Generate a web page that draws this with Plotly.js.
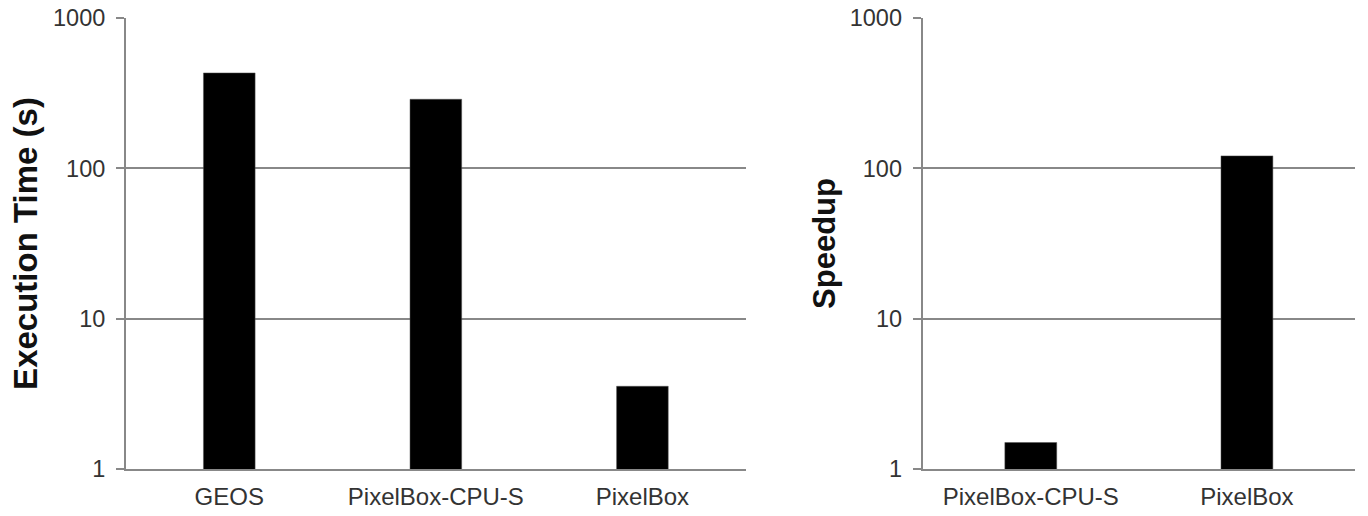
<!DOCTYPE html>
<html>
<head>
<meta charset="utf-8">
<script src="https://cdn.plot.ly/plotly-3.0.1.min.js"></script>
<style>html,body{margin:0;padding:0;background:#fff;}#chart{width:1368px;height:516px;}</style>
</head>
<body>
<div id="chart"></div>
<script>
// Left panel: execution time (seconds)
const timeCategories = ["GEOS", "PixelBox-CPU-S", "PixelBox"];
const timeValues = [431, 288, 3.55];
// Right panel: speedup
const speedupCategories = ["PixelBox-CPU-S", "PixelBox"];
const speedupValues = [1.5, 121];
const logTickVals = [1, 10, 100, 1000];
const logTickText = ["1", "10", "100", "1000"];

const gridColor = "#888888";
const font = "Liberation Sans, Arial, Helvetica, sans-serif";

const traces = [
  {type: "bar", x: timeCategories, y: timeValues, xaxis: "x", yaxis: "y",
   width: 0.25, marker: {color: "#000", line: {color: "#555", width: 0.5}}, hoverinfo: "x+y"},
  {type: "bar", x: speedupCategories, y: speedupValues, xaxis: "x2", yaxis: "y2",
   width: 0.24, marker: {color: "#000", line: {color: "#555", width: 0.5}}, hoverinfo: "x+y"}
];

function yAxis(anchor, title, size) {
  return {
    anchor: anchor, type: "log", range: [0, 3],
    tickvals: logTickVals, ticktext: logTickText,
    showgrid: true, gridcolor: gridColor, gridwidth: 2,
    showline: true, linecolor: gridColor, linewidth: 2,
    ticks: "outside", ticklen: 8, tickcolor: gridColor, tickwidth: 2,
    tickfont: {family: font, size: 23.5, color: "#333"},
    ticklabelstandoff: 6,
    zeroline: false, fixedrange: true,
    title: {text: title, font: {family: font, size: size, color: "#111", weight: "bold"}, standoff: 5}
  };
}
function xAxis(anchor, domain) {
  return {
    anchor: anchor, domain: domain, type: "category",
    showgrid: false, showline: true, linecolor: gridColor, linewidth: 2,
    ticks: "", tickfont: {family: font, size: 24, color: "#333"},
    ticklabelstandoff: 5,
    zeroline: false, fixedrange: true
  };
}

const layout = {
  width: 1368, height: 516,
  margin: {l: 0, r: 0, t: 18, b: 47},
  paper_bgcolor: "#fff", plot_bgcolor: "#fff",
  showlegend: false,
  font: {family: font},
  xaxis: xAxis("y", [0.0921, 0.5451]),
  yaxis: yAxis("x", "Execution Time (s)", 33),
  xaxis2: xAxis("y2", [0.6745, 0.9905]),
  yaxis2: yAxis("x2", "Speedup", 31)
};

Plotly.newPlot("chart", traces, layout, {displayModeBar: false, staticPlot: true});
</script>
</body>
</html>
